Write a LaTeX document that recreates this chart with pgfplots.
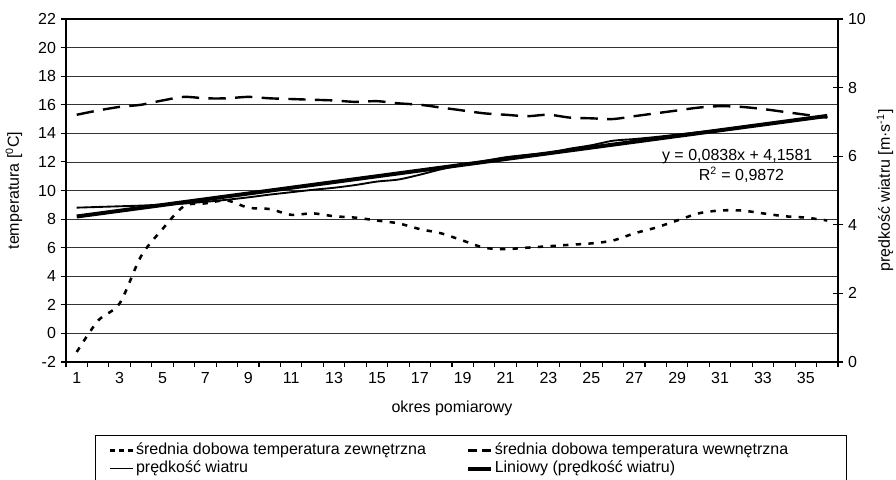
\documentclass[border=0pt]{standalone}
\usepackage{fontspec}
\setmainfont{Liberation Sans}
\usepackage{pgfplots}
\pgfplotsset{compat=1.18}

\pgfplotstableread{
x  tz    tw
1  -1.3  15.30
2  0.9   15.60
3  2.1   15.85
4  5.4   16.00
5  7.3   16.30
6  8.9   16.55
7  9.1   16.45
8  9.3   16.45
9  8.8   16.55
10 8.7   16.45
11 8.3   16.40
12 8.4   16.35
13 8.2   16.30
14 8.1   16.20
15 7.9   16.25
16 7.7   16.10
17 7.3   16.00
18 7.0   15.80
19 6.5   15.60
20 6.0   15.40
21 5.9   15.30
22 6.0   15.20
23 6.1   15.30
24 6.2   15.10
25 6.3   15.05
26 6.5   15.00
27 7.0   15.20
28 7.4   15.40
29 7.9   15.60
30 8.4   15.80
31 8.6   15.90
32 8.6   15.85
33 8.4   15.70
34 8.2   15.50
35 8.1   15.30
36 7.9   15.10
}\temps

\pgfplotstableread{
x  v
1  4.50
2  4.52
3  4.54
4  4.56
5  4.59
6  4.62
7  4.67
8  4.73
9  4.80
10 4.88
11 4.95
12 5.02
13 5.08
14 5.16
15 5.26
16 5.32
17 5.46
18 5.62
19 5.75
20 5.86
21 5.97
22 6.04
23 6.10
24 6.22
25 6.32
26 6.45
27 6.50
28 6.56
29 6.63
30 6.70
31 6.77
32 6.85
33 6.93
34 7.00
35 7.08
36 7.15
}\wind

\pgfplotstableread{
x  v
1  4.2419
36 7.1749
}\trend

\tikzset{
  zewn/.style={black, line width=1.9pt, dash pattern=on 4pt off 5.5pt},
  wewn/.style={black, line width=1.8pt, dash pattern=on 13pt off 7pt},
  wiatr/.style={black, line width=1.4pt},
  lin/.style={black, line width=3pt},
}

\begin{document}
\begin{tikzpicture}[font=\fontsize{12}{14}\selectfont]
\useasboundingbox (-49.5pt,-87.75pt) rectangle (622.5pt,271.5pt);
\begin{axis}[
  scale only axis, width=579pt, height=257.25pt,
  xmin=0.5, xmax=36.5, ymin=-2, ymax=22,
  ytick={-2,0,...,22},
  xtick={1,3,...,35},
  minor xtick={0.5,1.5,...,36.5},
  major x tick style={draw=none},
  xtick pos=bottom, ytick pos=left,
  tick align=outside,
  major tick length=4pt, minor tick length=4pt,
  every tick/.style={black, line width=0.8pt},
  axis line style={black, line width=1pt},
  ymajorgrids,
  major grid style={black!80, line width=0.6pt},
  /pgf/number format/assume math mode=true,
  ylabel={temperatura [\textsuperscript{0}C]},
  xlabel={okres pomiarowy},
  y label style={at={(axis description cs:-0.0674,0.5)}, anchor=center},
  x label style={at={(axis description cs:0.5,-0.134)}, anchor=center},
  clip=true,
]
\addplot[zewn, smooth, tension=0.5] table[x=x, y=tz] {\temps};
\addplot[wewn, smooth, tension=0.5] table[x=x, y=tw] {\temps};
\end{axis}
\begin{axis}[
  scale only axis, width=579pt, height=257.25pt,
  xmin=0.5, xmax=36.5, ymin=0, ymax=10,
  axis x line=none,
  axis y line*=right,
  ytick={0,2,...,10},
  tick align=center,
  major tick length=8pt,
  every tick/.style={black, line width=0.8pt},
  axis line style={black, line width=1pt},
  /pgf/number format/assume math mode=true,
  ylabel={prędkość wiatru [m·s\textsuperscript{-1}]},
  y label style={at={(axis description cs:1.0609,0.5)}, anchor=center},
  legend columns=2,
  legend cell align=left,
  legend image code/.code={\path (0pt,0pt); \draw[#1] (10pt,0pt) -- (27pt,0pt);},
  legend style={
    at={(axis description cs:0.0376,-0.2128)}, anchor=north west,
    draw=black, line width=0.8pt, fill=white,
    inner xsep=0pt, inner ysep=4.5pt,
    nodes={inner xsep=1.5pt, inner ysep=0.75pt, text height=9pt, text depth=3pt, line width=0.8pt},
    font=\fontsize{12}{14}\selectfont,
  },
]
\addlegendimage{zewn, dash pattern=on 3.5pt off 3.25pt}
\addlegendentry{\makebox[236pt][l]{średnia dobowa temperatura zewnętrzna}}
\addlegendimage{wewn, dash pattern=on 7pt off 3.5pt}
\addlegendentry{\makebox[262pt][l]{średnia dobowa temperatura wewnętrzna}}
\addplot[wiatr, smooth, tension=0.5] table[x=x, y=v] {\wind};
\addlegendentry{prędkość wiatru}
\addplot[lin] table[x=x, y=v] {\trend};
\addlegendentry{Liniowy (prędkość wiatru)}
\node[anchor=center] at (axis cs:31.8,5.98) {y = 0,0838x + 4,1581};
\node[anchor=center] at (axis cs:32.0,5.45) {R\textsuperscript{2} = 0,9872};
\end{axis}
\end{tikzpicture}
\end{document}
